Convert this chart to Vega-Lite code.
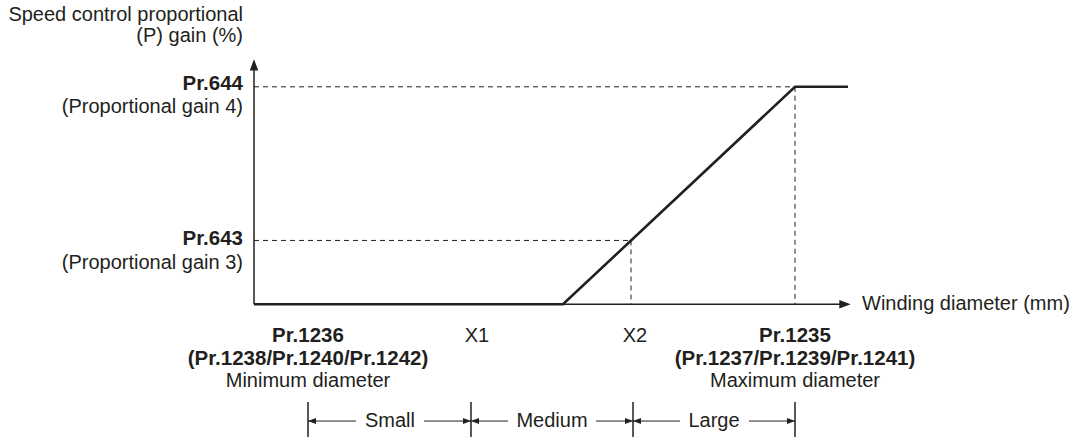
{
  "$schema": "https://vega.github.io/schema/vega-lite/v6.json",
  "width": 1080,
  "height": 438,
  "padding": 0,
  "autosize": {"type": "fit", "contains": "padding"},
  "background": "white",
  "config": {
    "view": {"stroke": null},
    "text": {"font": "Liberation Sans", "fontSize": 20, "color": "#231f20", "baseline": "middle"}
  },
  "datasets": {
    "guides": [
      {"x": 0, "y": 218, "x2": 541, "y2": 218},
      {"x": 541, "y": 218, "x2": 541, "y2": 0},
      {"x": 0, "y": 64, "x2": 377, "y2": 64},
      {"x": 377, "y": 64, "x2": 377, "y2": 0}
    ],
    "axes": [
      {"x": 0, "y": 0, "x2": 0, "y2": 236},
      {"x": 0, "y": 0, "x2": 586, "y2": 0}
    ],
    "gain": [
      {"diameter": 0, "gain": 0},
      {"diameter": 309, "gain": 0},
      {"diameter": 541, "gain": 218},
      {"diameter": 594, "gain": 218}
    ],
    "axisHeads": [
      {"x": 0, "y": 240, "dir": "up"},
      {"x": 591, "y": 0, "dir": "right"}
    ],
    "ticks": [
      {"x": 54, "y": -98, "y2": -133},
      {"x": 217, "y": -98, "y2": -133},
      {"x": 379, "y": -98, "y2": -133},
      {"x": 541, "y": -98, "y2": -133}
    ],
    "dims": [
      {"x": 54, "x2": 102, "y": -117},
      {"x": 170, "x2": 217, "y": -117},
      {"x": 217, "x2": 254, "y": -117},
      {"x": 342, "x2": 379, "y": -117},
      {"x": 379, "x2": 426, "y": -117},
      {"x": 495, "x2": 541, "y": -117}
    ],
    "dimHeads": [
      {"x": 58, "y": -117, "dir": "left"},
      {"x": 213, "y": -117, "dir": "right"},
      {"x": 221, "y": -117, "dir": "left"},
      {"x": 375, "y": -117, "dir": "right"},
      {"x": 383, "y": -117, "dir": "left"},
      {"x": 537, "y": -117, "dir": "right"}
    ],
    "yLabels": [
      {"x": -11, "y": 290, "label": "Speed control proportional"},
      {"x": -11, "y": 269, "label": "(P) gain (%)"},
      {"x": -11, "y": 198, "label": "(Proportional gain 4)"},
      {"x": -11, "y": 41, "label": "(Proportional gain 3)"}
    ],
    "yParams": [
      {"x": -11, "y": 221, "label": "Pr.644"},
      {"x": -11, "y": 65, "label": "Pr.643"}
    ],
    "xParams": [
      {"x": 54, "y": -32, "label": "Pr.1236"},
      {"x": 54, "y": -55, "label": "(Pr.1238/Pr.1240/Pr.1242)"},
      {"x": 541, "y": -32, "label": "Pr.1235"},
      {"x": 541, "y": -55, "label": "(Pr.1237/Pr.1239/Pr.1241)"}
    ],
    "xLabels": [
      {"x": 54, "y": -77, "label": "Minimum diameter"},
      {"x": 541, "y": -77, "label": "Maximum diameter"},
      {"x": 223, "y": -32, "label": "X1"},
      {"x": 381, "y": -32, "label": "X2"},
      {"x": 136, "y": -117, "label": "Small"},
      {"x": 298, "y": -117, "label": "Medium"},
      {"x": 460, "y": -117, "label": "Large"}
    ],
    "axisTitle": [
      {"x": 608, "y": 0, "label": "Winding diameter (mm)"}
    ]
  },
  "encoding": {
    "x": {"type": "quantitative", "axis": null, "scale": {"domain": [-254, 826], "nice": false, "zero": false}},
    "y": {"type": "quantitative", "axis": null, "scale": {"domain": [-133, 305], "nice": false, "zero": false}}
  },
  "layer": [
    {
      "data": {"name": "guides"},
      "mark": {"type": "rule", "color": "#231f20", "strokeWidth": 1, "strokeDash": [5, 4]},
      "encoding": {
        "x": {"field": "x", "type": "quantitative"},
        "y": {"field": "y", "type": "quantitative"},
        "x2": {"field": "x2"},
        "y2": {"field": "y2"}
      }
    },
    {
      "data": {"name": "axes"},
      "mark": {"type": "rule", "color": "#231f20", "strokeWidth": 1.5},
      "encoding": {
        "x": {"field": "x", "type": "quantitative"},
        "y": {"field": "y", "type": "quantitative"},
        "x2": {"field": "x2"},
        "y2": {"field": "y2"}
      }
    },
    {
      "data": {"name": "gain"},
      "mark": {"type": "line", "color": "#231f20", "strokeWidth": 2.6, "strokeJoin": "miter"},
      "encoding": {
        "x": {"field": "diameter", "type": "quantitative"},
        "y": {"field": "gain", "type": "quantitative"}
      }
    },
    {
      "data": {"name": "axisHeads"},
      "mark": {"type": "point", "filled": true, "color": "#231f20", "opacity": 1, "size": 130, "strokeWidth": 0},
      "encoding": {
        "x": {"field": "x", "type": "quantitative"},
        "y": {"field": "y", "type": "quantitative"},
        "shape": {
          "field": "dir",
          "type": "nominal",
          "legend": null,
          "scale": {"domain": ["up", "right", "left"], "range": ["M0,-1L-0.75,1L0.75,1Z", "M1,0L-1,-0.75L-1,0.75Z", "M-1,0L1,-0.75L1,0.75Z"]}
        }
      }
    },
    {
      "data": {"name": "ticks"},
      "mark": {"type": "rule", "color": "#231f20", "strokeWidth": 1.5},
      "encoding": {
        "x": {"field": "x", "type": "quantitative"},
        "y": {"field": "y", "type": "quantitative"},
        "y2": {"field": "y2"}
      }
    },
    {
      "data": {"name": "dims"},
      "mark": {"type": "rule", "color": "#231f20", "strokeWidth": 1},
      "encoding": {
        "x": {"field": "x", "type": "quantitative"},
        "x2": {"field": "x2"},
        "y": {"field": "y", "type": "quantitative"}
      }
    },
    {
      "data": {"name": "dimHeads"},
      "mark": {"type": "point", "filled": true, "color": "#231f20", "opacity": 1, "size": 64, "strokeWidth": 0},
      "encoding": {
        "x": {"field": "x", "type": "quantitative"},
        "y": {"field": "y", "type": "quantitative"},
        "shape": {
          "field": "dir",
          "type": "nominal",
          "legend": null,
          "scale": {"domain": ["up", "right", "left"], "range": ["M0,-1L-0.6,1L0.6,1Z", "M1,0L-1,-0.6L-1,0.6Z", "M-1,0L1,-0.6L1,0.6Z"]}
        }
      }
    },
    {
      "data": {"name": "yLabels"},
      "mark": {"type": "text", "align": "right"},
      "encoding": {
        "x": {"field": "x", "type": "quantitative"},
        "y": {"field": "y", "type": "quantitative"},
        "text": {"field": "label"}
      }
    },
    {
      "data": {"name": "yParams"},
      "mark": {"type": "text", "align": "right", "fontWeight": "bold", "fontSize": 20.5},
      "encoding": {
        "x": {"field": "x", "type": "quantitative"},
        "y": {"field": "y", "type": "quantitative"},
        "text": {"field": "label"}
      }
    },
    {
      "data": {"name": "xParams"},
      "mark": {"type": "text", "align": "center", "fontWeight": "bold", "fontSize": 20.5},
      "encoding": {
        "x": {"field": "x", "type": "quantitative"},
        "y": {"field": "y", "type": "quantitative"},
        "text": {"field": "label"}
      }
    },
    {
      "data": {"name": "xLabels"},
      "mark": {"type": "text", "align": "center"},
      "encoding": {
        "x": {"field": "x", "type": "quantitative"},
        "y": {"field": "y", "type": "quantitative"},
        "text": {"field": "label"}
      }
    },
    {
      "data": {"name": "axisTitle"},
      "mark": {"type": "text", "align": "left"},
      "encoding": {
        "x": {"field": "x", "type": "quantitative"},
        "y": {"field": "y", "type": "quantitative"},
        "text": {"field": "label"}
      }
    }
  ]
}
